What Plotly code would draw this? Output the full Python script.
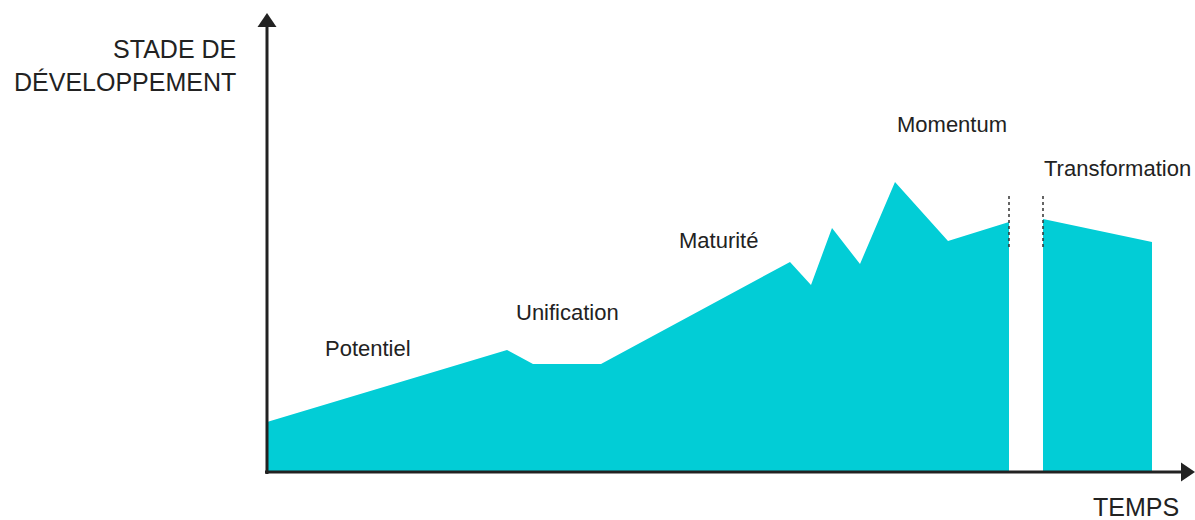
import plotly.graph_objects as go

# Development curve (time units, development level)
time_a = [0, 240, 266, 334, 523, 544, 565, 593, 628, 681, 742]
level_a = [50, 122, 108, 108, 210, 187, 244, 208, 290, 231, 250]
time_b = [776, 885]
level_b = [253, 230]

# Phase labels
phase_names = ["Potentiel", "Unification", "Maturité", "Momentum", "Transformation"]
phase_x = [101, 300, 451, 685, 850]
phase_y = [124, 160, 232, 348, 304]

# Break markers (dotted)
break_x = [742, 776]
break_y0, break_y1 = 225, 277

FILL = "#02CDD6"
INK = "#222222"
FONT = "Liberation Sans, Arial, sans-serif"

fig = go.Figure()
for t, l in [(time_a, level_a), (time_b, level_b)]:
    fig.add_trace(go.Scatter(x=t, y=l, mode="lines", fill="tozeroy",
                             fillcolor=FILL, line=dict(width=0, color=FILL),
                             hoverinfo="skip", showlegend=False))

shapes = []
for bx in break_x:
    shapes.append(dict(type="line", x0=bx, x1=bx, y0=break_y0, y1=break_y1,
                       line=dict(color="#333333", width=1.5, dash="dot")))
# axes lines
shapes.append(dict(type="line", x0=0, x1=0, y0=-2, y1=446, line=dict(color=INK, width=3)))
shapes.append(dict(type="line", x0=-2, x1=916, y0=0, y1=0, line=dict(color=INK, width=3)))
# arrow heads
shapes.append(dict(type="path", path="M -9.5,445 L 9.5,445 L 0,459 Z", fillcolor=INK, line=dict(width=0)))
shapes.append(dict(type="path", path="M 914,9.5 L 914,-9.5 L 928,0 Z", fillcolor=INK, line=dict(width=0)))

annotations = []
for name, x, y in zip(phase_names, phase_x, phase_y):
    annotations.append(dict(x=x, y=y, text=name, showarrow=False,
                            font=dict(size=22, color=INK, family=FONT)))
annotations.append(dict(x=-29, y=407, text="STADE DE<br>DÉVELOPPEMENT", showarrow=False,
                        xanchor="right", align="right",
                        font=dict(size=25, color=INK, family=FONT)))
annotations.append(dict(x=869, y=-35, text="TEMPS", showarrow=False,
                        font=dict(size=25, color=INK, family=FONT)))

fig.update_layout(
    width=1195, height=520,
    margin=dict(l=0, r=0, t=0, b=0),
    paper_bgcolor="white", plot_bgcolor="white",
    xaxis=dict(range=[-267, 928], visible=False, fixedrange=True),
    yaxis=dict(range=[-48, 472], visible=False, fixedrange=True),
    shapes=shapes, annotations=annotations,
)

fig.write_html("out.html")
